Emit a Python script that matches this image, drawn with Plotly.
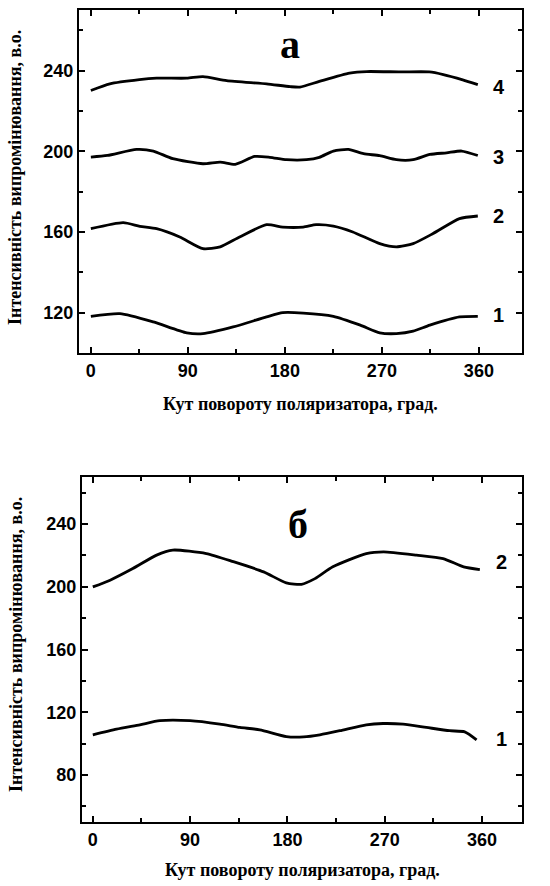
import plotly.graph_objects as go

# Panel "а" (top)
a1_x = [0, 27, 58, 89, 104, 132, 163, 178, 197, 225, 250, 268, 283.5, 299, 314.5, 342, 359]
a1_y = [118.2, 119.5, 115.4, 110, 109.6, 112.9, 117.9, 120, 119.8, 118.2, 113.8, 110, 109.6, 110.8, 113.8, 117.9, 118.2]

a2_x = [0, 30, 45.5, 61, 82.5, 104, 120, 138, 163, 178, 197, 209, 225, 243, 268, 283.5, 299, 317.5, 342, 359]
a2_y = [161.6, 164.6, 162.8, 161.6, 157.5, 151.7, 152.6, 157.5, 163.6, 162.4, 162.4, 163.6, 162.9, 160, 154.2, 152.6, 154.2, 159.2, 166.6, 167.9]

a3_x = [0, 15.4, 42.4, 58, 76, 104, 120, 134, 152, 166, 181.5, 200, 212, 225, 239, 253, 268, 283.5, 299, 314.5, 330, 344, 359]
a3_y = [197.1, 197.9, 200.9, 200.1, 196.3, 193.8, 194.6, 193.5, 197.4, 197, 195.8, 195.8, 197, 200.1, 200.9, 198.8, 197.8, 195.8, 195.8, 198.4, 199.2, 200.1, 197.9]

a4_x = [0, 17.6, 45, 61, 89, 104, 126, 163, 185, 194, 212, 240, 256, 287, 314, 327, 345, 359]
a4_y = [230.1, 233.4, 235.5, 236.2, 236.2, 237, 235, 233.4, 232, 231.8, 234.6, 238.7, 239.5, 239.3, 239.3, 238, 235.4, 233]

# Panel "б" (bottom)
b1_x = [0, 22, 43.5, 62, 90, 117.5, 136, 154.5, 179, 195, 210, 228.5, 253, 268.5, 287, 308.5, 330, 344, 355]
b1_y = [105.6, 109.2, 112, 114.6, 114.6, 112.4, 110.3, 108.8, 104.5, 104.3, 105.6, 108.2, 112, 112.8, 112.4, 110.3, 108.2, 107.5, 102.4]

b2_x = [0, 16, 37, 59, 74, 105, 130, 158, 179, 193, 205.5, 222, 253, 269, 299.5, 324, 343, 358]
b2_y = [199.9, 204.2, 211.6, 220.2, 223.4, 221.2, 216, 209.5, 202.5, 201.6, 205.2, 212.7, 221.2, 222.3, 220.2, 218, 212.7, 211]

x_ticks = [0, 90, 180, 270, 360]
top_y_ticks = [120, 160, 200, 240]
bot_y_ticks = [80, 120, 160, 200, 240]

x_title = "Кут повороту поляризатора, град."
y_title = "Інтенсивність випромінювання, в.о."

fig = go.Figure()
line = dict(color="black", width=2.8, shape="spline", smoothing=0.6)
for xs, ys in [(a1_x, a1_y), (a2_x, a2_y), (a3_x, a3_y), (a4_x, a4_y)]:
    fig.add_trace(go.Scatter(x=xs, y=ys, mode="lines", line=line, xaxis="x", yaxis="y", showlegend=False))
for xs, ys in [(b1_x, b1_y), (b2_x, b2_y)]:
    fig.add_trace(go.Scatter(x=xs, y=ys, mode="lines", line=line, xaxis="x2", yaxis="y2", showlegend=False))

tickfont = dict(family="Liberation Sans, Arial", size=18, color="black", weight="bold")
common = dict(showgrid=False, zeroline=False, showline=True, linecolor="black", linewidth=2,
              mirror="ticks", ticks="inside", ticklen=6, tickwidth=1.5, tickcolor="black",
              tickfont=tickfont, automargin=False)

fig.update_layout(
    width=550, height=886,
    margin=dict(l=0, r=0, t=0, b=0),
    paper_bgcolor="white", plot_bgcolor="white",
    xaxis=dict(domain=[79/550, 522/550], anchor="y", range=[-11, 400], tickvals=x_ticks,
               minor=dict(ticks="inside", dtick=45, tick0=0, ticklen=4, tickcolor="black"), **common),
    yaxis=dict(domain=[1-353/886, 1-10/886], anchor="x", range=[100, 270], tickvals=top_y_ticks,
               minor=dict(ticks="inside", dtick=20, tick0=0, ticklen=4, tickcolor="black"), **common),
    xaxis2=dict(domain=[82/550, 522/550], anchor="y2", range=[-10, 397], tickvals=x_ticks,
                minor=dict(ticks="inside", dtick=45, tick0=0, ticklen=4, tickcolor="black"), **common),
    yaxis2=dict(domain=[1-822/886, 1-477/886], anchor="x2", range=[50, 270], tickvals=bot_y_ticks,
                minor=dict(ticks="inside", dtick=20, tick0=0, ticklen=4, tickcolor="black"), **common),
)

serif = dict(family="Liberation Serif, Times New Roman", size=18, color="black", weight="bold")
ann = []
# axis titles
ann.append(dict(text=x_title, x=(79+522)/2/550, y=1-404/886, xref="paper", yref="paper", showarrow=False,
                font=serif, xanchor="center", yanchor="middle"))
ann.append(dict(text=x_title, x=(82+522)/2/550, y=1-870/886, xref="paper", yref="paper", showarrow=False,
                font=serif, xanchor="center", yanchor="middle"))
ann.append(dict(text=y_title, x=15/550, y=1-178/886, xref="paper", yref="paper", showarrow=False,
                font=serif, textangle=-90, xanchor="center", yanchor="middle"))
ann.append(dict(text=y_title, x=16/550, y=1-645/886, xref="paper", yref="paper", showarrow=False,
                font=serif, textangle=-90, xanchor="center", yanchor="middle"))
# panel letters
letter = dict(family="Liberation Serif, Times New Roman", size=40, color="black", weight="bold")
ann.append(dict(text="а", x=185, y=253, xref="x", yref="y", showarrow=False, font=letter,
                xanchor="center", yanchor="middle"))
ann.append(dict(text="б", x=190, y=239.5, xref="x2", yref="y2", showarrow=False, font=letter,
                xanchor="center", yanchor="middle"))
# curve labels
lab = dict(family="Liberation Sans, Arial", size=20, color="black", weight="bold")
for t, yv in [("1", 118.7), ("2", 168), ("3", 197), ("4", 231.6)]:
    ann.append(dict(text=t, x=378.5, y=yv, xref="x", yref="y", showarrow=False, font=lab,
                    xanchor="center", yanchor="middle"))
for t, yv in [("1", 103), ("2", 215.7)]:
    ann.append(dict(text=t, x=378, y=yv, xref="x2", yref="y2", showarrow=False, font=lab,
                    xanchor="center", yanchor="middle"))
fig.update_layout(annotations=ann)

fig.write_html("out.html")
